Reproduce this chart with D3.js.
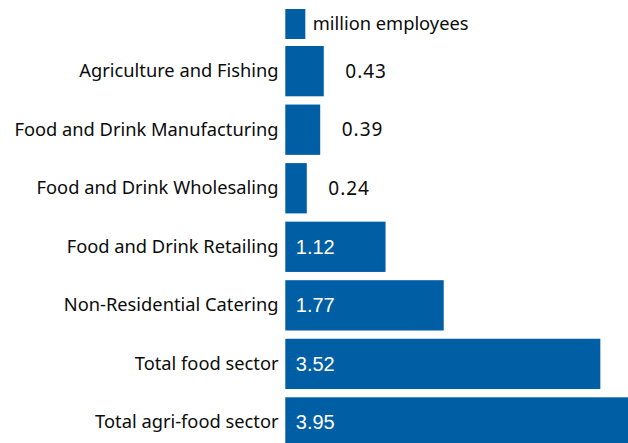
<!DOCTYPE html>
<html>
<head>
<meta charset="utf-8">
<script src="https://cdn.jsdelivr.net/npm/d3@7"></script>
<style>
  html, body { margin: 0; padding: 0; background: #fff; overflow: hidden; }
  svg { display: block; }
</style>
</head>
<body>
<svg id="chart" width="628" height="443"></svg>
<script>
// Employment in the agri-food sector, million employees
const categories = [
  "Agriculture and Fishing",
  "Food and Drink Manufacturing",
  "Food and Drink Wholesaling",
  "Food and Drink Retailing",
  "Non-Residential Catering",
  "Total food sector",
  "Total agri-food sector"
];
const employees = [0.43, 0.39, 0.24, 1.12, 1.77, 3.52, 3.95];
const legendLabel = "million employees";

const BLUE = "#005ea5";
const INK = "#0b0c0c";
const labelFont = "'Noto Sans', sans-serif";
const valueFont = "'Liberation Sans', Arial, sans-serif";

const svg = d3.select("#chart");

const x0 = 285.3;
const x = d3.scaleLinear().domain([0, 1]).range([x0, x0 + 89.5]);

const step = 58.55;
const bandTop = 46 - step * 0.0705;
const y = d3.scaleBand()
  .domain(categories)
  .range([bandTop, bandTop + step * categories.length])
  .paddingInner(0.141)
  .paddingOuter(0.0705);

const rows = categories.map((c, i) => ({ c, v: employees[i] }));

// bars
svg.append("g").selectAll("rect")
  .data(rows)
  .join("rect")
  .attr("x", x(0))
  .attr("y", d => y(d.c))
  .attr("width", d => x(d.v) - x(0))
  .attr("height", y.bandwidth())
  .attr("fill", BLUE);

// category labels
svg.append("g").selectAll("text")
  .data(rows)
  .join("text")
  .attr("x", 278.5)
  .attr("y", d => y(d.c) + y.bandwidth() / 2)
  .attr("dy", "0.33em")
  .attr("text-anchor", "end")
  .attr("font-family", labelFont)
  .attr("font-size", 18.3)
  .attr("fill", INK)
  .text(d => d.c);

// value labels: inside wide bars, outside narrow ones
const inside = d => x(d.v) - x(0) > 60;
svg.append("g").selectAll("text")
  .data(rows)
  .join("text")
  .attr("x", d => inside(d) ? x(0) + 10.5 : x(d.v) + 21.5)
  .attr("y", d => y(d.c) + y.bandwidth() / 2)
  .attr("dy", "0.35em")
  .attr("font-family", d => inside(d) ? valueFont : labelFont)
  .attr("font-size", d => inside(d) ? 20 : 19)
  .attr("letter-spacing", d => inside(d) ? 0 : 1)
  .attr("fill", d => inside(d) ? "#fff" : INK)
  .text(d => d3.format(".2f")(d.v));

// legend
const lg = svg.append("g");
lg.append("rect")
  .attr("x", x0).attr("y", 9)
  .attr("width", 20).attr("height", 30)
  .attr("fill", BLUE);
lg.append("text")
  .attr("x", 312.7).attr("y", 24)
  .attr("dy", "0.33em")
  .attr("font-family", labelFont)
  .attr("font-size", 18.3)
  .attr("fill", INK)
  .text(legendLabel);
</script>
</body>
</html>
